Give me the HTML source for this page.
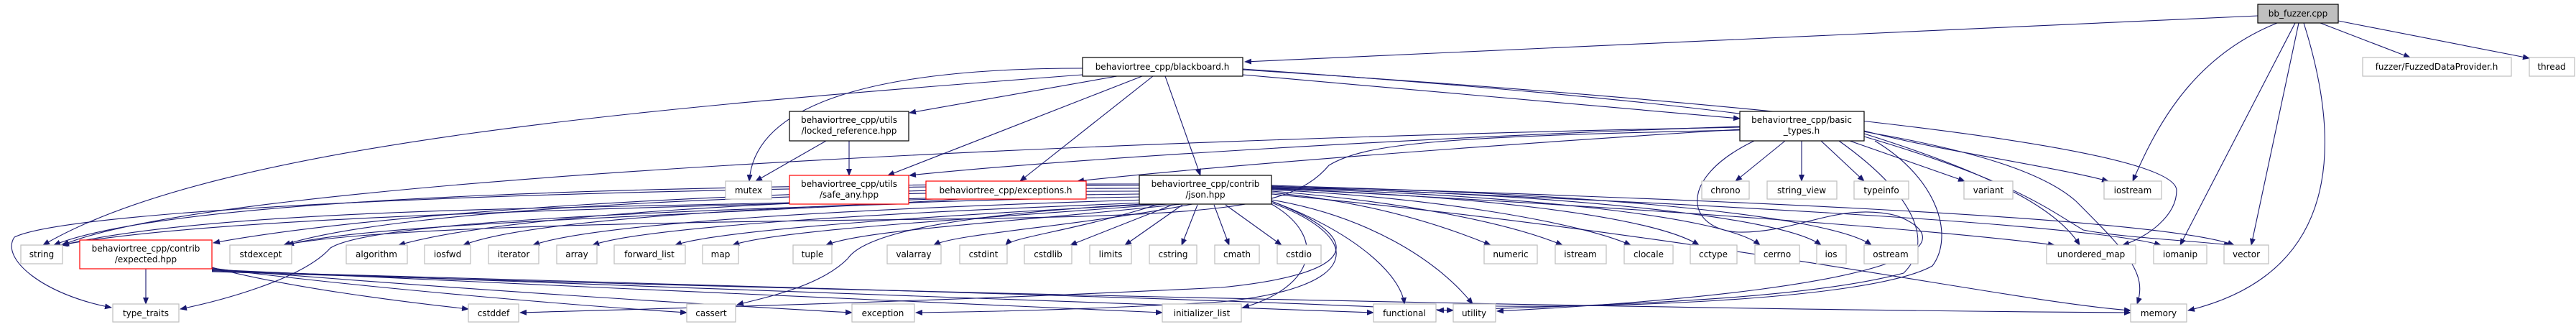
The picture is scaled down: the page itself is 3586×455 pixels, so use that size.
<!DOCTYPE html>
<html><head><meta charset="utf-8"><style>
html,body{margin:0;padding:0;background:#fff;}
svg{display:block}
text{font-family:"DejaVu Sans","Liberation Sans",sans-serif;font-size:12px;fill:#000;text-anchor:middle}
.e{fill:none;stroke:#191970;stroke-width:1.1;marker-end:url(#a)}
.g{fill:#fff;stroke:#bfbfbf;stroke-width:1.2}
.b{fill:#fff;stroke:#000;stroke-width:1.2}
.r{fill:#fff;stroke:#ff0000;stroke-width:1.2}
</style></head><body>
<svg width="3586" height="455" viewBox="0 0 3586 455" xmlns="http://www.w3.org/2000/svg">
<defs><marker id="a" markerWidth="10" markerHeight="8" refX="9" refY="4" orient="auto" markerUnits="userSpaceOnUse"><path d="M0,0L10,4L0,8z" fill="#191970"/></marker></defs>
<!-- edges -->
<g>
<path class="e" d="M3143,22 L1733,86"/>
<path class="e" d="M3170,32 C3050,80 3000,180 2969,252"/>
<path class="e" d="M3195,32 L3035,341"/>
<path class="e" d="M3200,32 L3134,341"/>
<path class="e" d="M3207,32 C3260,200 3260,380 3046,432"/>
<path class="e" d="M3230,32 L3355,80"/>
<path class="e" d="M3255,29 L3521,81"/>
<path class="e" d="M1507,95 C1200,95 1050,150 1043,252"/>
<path class="e" d="M1507,104 C900,150 300,200 60,341"/>
<path class="e" d="M1555,106 L1266,157"/>
<path class="e" d="M1590,106 L1236,244"/>
<path class="e" d="M1605,106 L1420,252"/>
<path class="e" d="M1622,106 L1671,244"/>
<path class="e" d="M1730,104 L2422,165"/>
<path class="e" d="M1730,97 C2400,140 3030,200 3030,265 C3030,300 2990,330 2955,341"/>
<path class="e" d="M1730,96 C2500,150 2800,200 2890,280 C2960,350 2990,380 2975,423"/>
<path class="e" d="M1150,196 L1052,252"/>
<path class="e" d="M1182,196 L1182,244"/>
<path class="e" d="M2485,196 L2416,252"/>
<path class="e" d="M2508,196 L2508,252"/>
<path class="e" d="M2535,196 L2595,252"/>
<path class="e" d="M2575,196 L2735,252"/>
<path class="e" d="M2595,182 C2700,210 2850,230 2935,252"/>
<path class="e" d="M2595,186 C2800,250 2870,300 2895,341"/>
<path class="e" d="M2595,190 C2800,250 2850,290 2900,320 C2950,330 3050,335 3105,341"/>
<path class="e" d="M2422,176 C2000,190 1500,220 1266,244"/>
<path class="e" d="M2422,180 C2100,200 1700,230 1500,252"/>
<path class="e" d="M2422,177 C1500,195 300,250 87,341"/>
<path class="e" d="M2422,181 C2000,190 1900,200 1850,230 C1800,290 1700,300 1300,305 C800,310 500,320 395,341"/>
<path class="e" d="M2442,196 C2330,250 2350,320 2420,323 C2500,325 2560,280 2640,300 C2720,330 2720,400 2084,433"/>
<path class="e" d="M2560,196 C2650,260 2700,330 2650,380 C2500,420 2200,425 2001,432"/>
<path class="e" d="M2610,196 C2700,250 2720,330 2690,370 C2600,420 2200,430 2035,425"/>
<!-- json left -->
<path class="e" d="M1586,256 C1000,256 250,270 75,341"/>
<path class="e" d="M1586,262 C1000,262 500,300 297,338"/>
<path class="e" d="M1586,266 C1100,266 550,290 395,341"/>
<path class="e" d="M1586,270 C1100,275 700,300 555,341"/>
<path class="e" d="M1590,274 C1200,280 750,300 645,341"/>
<path class="e" d="M1595,278 C1200,290 830,310 742,341"/>
<path class="e" d="M1600,282 C1250,295 900,315 825,341"/>
<path class="e" d="M1610,284 C1300,300 1000,320 940,341"/>
<path class="e" d="M1625,284 C1350,305 1080,320 1020,341"/>
<path class="e" d="M1645,284 C1400,310 1200,320 1150,341"/>
<path class="e" d="M1660,284 C1500,315 1330,325 1300,341"/>
<path class="e" d="M1610,285 C1500,320 1410,330 1400,341"/>
<path class="e" d="M1632,285 L1490,341"/>
<path class="e" d="M1646,285 L1566,341"/>
<path class="e" d="M1667,285 L1645,341"/>
<path class="e" d="M1690,285 L1711,341"/>
<path class="e" d="M1706,285 L1784,341"/>
<!-- json right -->
<path class="e" d="M1770,268 C1900,280 2000,310 2075,341"/>
<path class="e" d="M1770,266 C1950,280 2100,310 2175,341"/>
<path class="e" d="M1770,264 C2000,275 2200,310 2270,341"/>
<path class="e" d="M1770,263 C2050,272 2300,300 2365,341"/>
<path class="e" d="M1770,262 C2100,270 2400,300 2450,341"/>
<path class="e" d="M1770,261 C2150,268 2480,300 2535,341"/>
<path class="e" d="M1770,260 C2200,266 2550,300 2605,341"/>
<path class="e" d="M1770,262 C2300,290 2700,320 2860,341"/>
<path class="e" d="M1770,259 C2300,280 2900,310 3008,341"/>
<path class="e" d="M1770,258 C2300,275 3000,300 3110,341"/>
<path class="e" d="M1770,280 C1900,330 1900,380 1700,400 C1300,420 900,430 724,435"/>
<path class="e" d="M1590,284 C1300,300 1200,330 1180,360 C1140,400 1060,415 1026,424"/>
<path class="e" d="M1770,282 C1900,330 1900,400 1700,420 C1500,432 1350,434 1275,435"/>
<path class="e" d="M1770,284 C1850,330 1830,400 1730,428"/>
<path class="e" d="M1770,280 C1880,320 1950,380 1955,423"/>
<path class="e" d="M1770,278 C1900,300 2000,360 2050,423"/>
<path class="e" d="M1770,270 C2400,330 2800,420 2966,432"/>
<path class="e" d="M1586,258 C800,260 100,290 20,330 C0,360 60,410 155,428"/>
<!-- expected -->
<path class="e" d="M203,374 L203,423"/>
<path class="e" d="M295,372 C400,400 560,420 652,430"/>
<path class="e" d="M295,373 C500,400 800,425 956,435"/>
<path class="e" d="M295,374 C600,400 1000,425 1186,435"/>
<path class="e" d="M295,375 C700,395 1300,420 1618,435"/>
<path class="e" d="M295,376 C800,395 1500,420 1912,435"/>
<path class="e" d="M295,377 C900,395 1700,415 2023,432"/>
<path class="e" d="M295,378 C1000,400 2200,430 2966,435"/>
<!-- safe_any / exceptions -->
<path class="e" d="M1099,282 C800,290 300,290 87,341"/>
<path class="e" d="M1250,284 C700,300 500,320 460,345 C420,390 300,420 251,430"/>
<path class="e" d="M1336,277 C1000,300 500,310 400,341"/>
<path class="e" d="M1300,277 C900,290 300,300 85,341"/>
</g>
<!-- nodes -->
<g>
<rect class="b" x="3143" y="6" width="112" height="26" style="fill:#bfbfbf"/><text x="3199" y="23">bb_fuzzer.cpp</text>
<rect class="g" x="3289" y="80" width="207" height="26"/><text x="3392" y="97">fuzzer/FuzzedDataProvider.h</text>
<rect class="g" x="3521" y="80" width="63" height="26"/><text x="3552" y="97">thread</text>
<rect class="b" x="1507" y="80" width="223" height="26"/><text x="1618" y="97">behaviortree_cpp/blackboard.h</text>
<rect class="b" x="1099" y="155" width="166" height="41"/><text x="1182" y="171">behaviortree_cpp/utils</text><text x="1182" y="186">/locked_reference.hpp</text>
<rect class="b" x="2422" y="155" width="173" height="41"/><text x="2508" y="171">behaviortree_cpp/basic</text><text x="2508" y="186">_types.h</text>
<rect class="g" x="1010" y="252" width="64" height="25"/><text x="1042" y="269">mutex</text>
<rect class="r" x="1099" y="244" width="166" height="40"/><text x="1182" y="260">behaviortree_cpp/utils</text><text x="1182" y="275">/safe_any.hpp</text>
<rect class="r" x="1289" y="252" width="223" height="25"/><text x="1400" y="269">behaviortree_cpp/exceptions.h</text>
<rect class="b" x="1586" y="244" width="184" height="40"/><text x="1678" y="260">behaviortree_cpp/contrib</text><text x="1678" y="275">/json.hpp</text>
<rect class="g" x="2369" y="252" width="66" height="25"/><text x="2402" y="269">chrono</text>
<rect class="g" x="2460" y="252" width="97" height="25"/><text x="2508" y="269">string_view</text>
<rect class="g" x="2581" y="252" width="76" height="25"/><text x="2619" y="269">typeinfo</text>
<rect class="g" x="2734" y="252" width="68" height="25"/><text x="2768" y="269">variant</text>
<rect class="g" x="2929" y="252" width="80" height="25"/><text x="2969" y="269">iostream</text>

<rect class="g" x="29" y="341" width="58" height="26"/><text x="58" y="358">string</text>
<rect class="r" x="111" y="334" width="184" height="40"/><text x="203" y="350">behaviortree_cpp/contrib</text><text x="203" y="365">/expected.hpp</text>
<rect class="g" x="320" y="341" width="86" height="26"/><text x="363" y="358">stdexcept</text>
<rect class="g" x="482" y="341" width="85" height="26"/><text x="524" y="358">algorithm</text>
<rect class="g" x="591" y="341" width="64" height="26"/><text x="623" y="358">iosfwd</text>
<rect class="g" x="680" y="341" width="70" height="26"/><text x="715" y="358">iterator</text>
<rect class="g" x="775" y="341" width="56" height="26"/><text x="803" y="358">array</text>
<rect class="g" x="855" y="341" width="99" height="26"/><text x="904" y="358">forward_list</text>
<rect class="g" x="978" y="341" width="50" height="26"/><text x="1003" y="358">map</text>
<rect class="g" x="1104" y="341" width="54" height="26"/><text x="1131" y="358">tuple</text>
<rect class="g" x="1235" y="341" width="75" height="26"/><text x="1272" y="358">valarray</text>
<rect class="g" x="1336" y="341" width="66" height="26"/><text x="1369" y="358">cstdint</text>
<rect class="g" x="1426" y="341" width="66" height="26"/><text x="1459" y="358">cstdlib</text>
<rect class="g" x="1517" y="341" width="58" height="26"/><text x="1546" y="358">limits</text>
<rect class="g" x="1600" y="341" width="66" height="26"/><text x="1633" y="358">cstring</text>
<rect class="g" x="1691" y="341" width="62" height="26"/><text x="1722" y="358">cmath</text>
<rect class="g" x="1778" y="341" width="61" height="26"/><text x="1808" y="358">cstdio</text>
<rect class="g" x="2066" y="341" width="74" height="26"/><text x="2103" y="358">numeric</text>
<rect class="g" x="2165" y="341" width="71" height="26"/><text x="2200" y="358">istream</text>
<rect class="g" x="2261" y="341" width="68" height="26"/><text x="2295" y="358">clocale</text>
<rect class="g" x="2353" y="341" width="65" height="26"/><text x="2385" y="358">cctype</text>
<rect class="g" x="2443" y="341" width="62" height="26"/><text x="2474" y="358">cerrno</text>
<rect class="g" x="2529" y="341" width="41" height="26"/><text x="2549" y="358">ios</text>
<rect class="g" x="2595" y="341" width="75" height="26"/><text x="2632" y="358">ostream</text>
<rect class="g" x="2849" y="341" width="124" height="26"/><text x="2911" y="358">unordered_map</text>
<rect class="g" x="2998" y="341" width="74" height="26"/><text x="3035" y="358">iomanip</text>
<rect class="g" x="3096" y="341" width="62" height="26"/><text x="3127" y="358">vector</text>

<rect class="g" x="157" y="423" width="92" height="25"/><text x="203" y="440">type_traits</text>
<rect class="g" x="652" y="423" width="70" height="25"/><text x="687" y="440">cstddef</text>
<rect class="g" x="956" y="423" width="68" height="25"/><text x="990" y="440">cassert</text>
<rect class="g" x="1186" y="423" width="87" height="25"/><text x="1229" y="440">exception</text>
<rect class="g" x="1618" y="423" width="110" height="25"/><text x="1673" y="440">initializer_list</text>
<rect class="g" x="1912" y="423" width="87" height="25"/><text x="1955" y="440">functional</text>
<rect class="g" x="2023" y="423" width="59" height="25"/><text x="2052" y="440">utility</text>
<rect class="g" x="2966" y="423" width="78" height="25"/><text x="3005" y="440">memory</text>
</g>
</svg>
</body></html>
